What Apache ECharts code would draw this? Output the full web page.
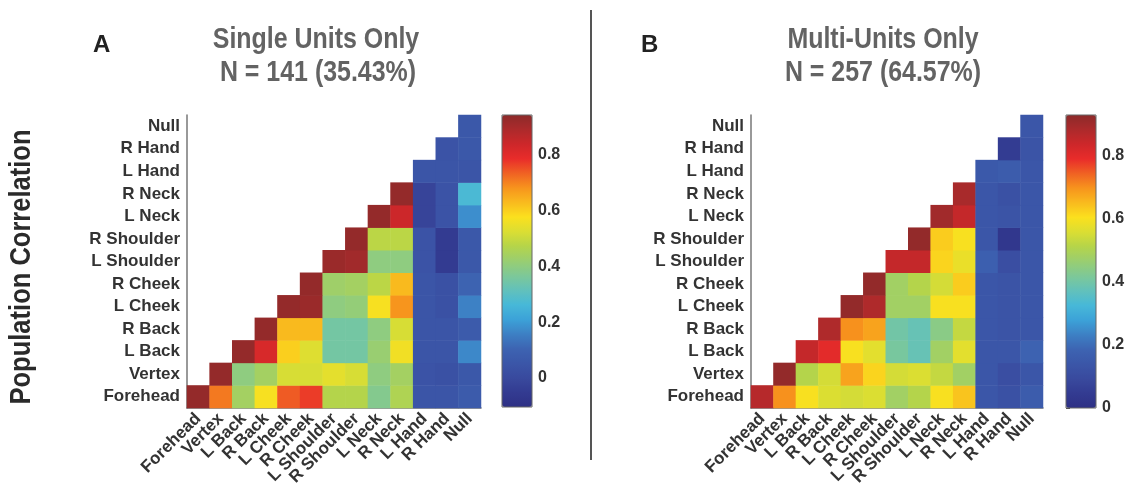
<!DOCTYPE html>
<html><head><meta charset="utf-8">
<script src="https://cdn.jsdelivr.net/npm/echarts@6/dist/echarts.min.js"></script>
<style>html,body{margin:0;padding:0;background:#fff}#c{width:1131px;height:501px}</style>
</head><body><div id="c"></div>
<script>
const categories = ['Forehead','Vertex','L Back','R Back','L Cheek','R Cheek','L Shoulder','R Shoulder','L Neck','R Neck','L Hand','R Hand','Null'];

// Row r holds values for columns r..12 (upper triangle incl. diagonal)
const singleRows = [
  [0.93,0.71,0.44,0.57,0.74,0.77,0.47,0.47,0.38,0.46,0.05,0.05,0.07],
  [0.93,0.40,0.44,0.52,0.52,0.54,0.52,0.40,0.44,0.04,0.03,0.06],
  [0.93,0.82,0.60,0.53,0.35,0.35,0.42,0.56,0.05,0.05,0.17],
  [0.93,0.63,0.63,0.35,0.35,0.40,0.52,0.05,0.05,0.07],
  [0.93,0.92,0.40,0.41,0.57,0.68,0.05,0.03,0.16],
  [0.93,0.43,0.44,0.48,0.63,0.05,0.03,0.10],
  [0.92,0.91,0.40,0.40,0.04,-0.05,0.06],
  [0.93,0.48,0.48,0.04,-0.05,0.06],
  [0.93,0.84,-0.02,0.04,0.18],
  [0.93,-0.02,0.04,0.27],
  [0.05,0.05,0.05],
  [0.04,0.06],
  [0.06]
];
const multiRows = [
  [0.87,0.70,0.60,0.56,0.55,0.56,0.48,0.51,0.60,0.64,0.14,0.12,0.16],
  [0.92,0.51,0.55,0.68,0.62,0.55,0.56,0.53,0.48,0.14,0.11,0.14],
  [0.85,0.80,0.60,0.57,0.41,0.38,0.48,0.57,0.14,0.14,0.18],
  [0.88,0.70,0.68,0.40,0.38,0.44,0.53,0.14,0.13,0.14],
  [0.92,0.88,0.48,0.48,0.60,0.60,0.14,0.13,0.14],
  [0.92,0.48,0.51,0.55,0.63,0.14,0.13,0.14],
  [0.85,0.85,0.62,0.58,0.17,0.11,0.14],
  [0.92,0.63,0.60,0.14,0.03,0.14],
  [0.90,0.85,0.14,0.13,0.14],
  [0.89,0.14,0.12,0.14],
  [0.15,0.16,0.14],
  [0.05,0.13],
  [0.14]
];
const singleRange = [-0.104, 0.943];
const multiRange = [0, 0.93];
const colorbarTicks = [0, 0.2, 0.4, 0.6, 0.8];

const cmap = ['#2e3085','#333b91','#394a9e','#3b56a8','#3d64b2','#3d80c4','#3ca2d8','#47b8d8','#62c1bb','#7dc898','#99ce71','#b5d44a','#dade33','#fbe01e','#f9bb1e','#f7941d','#f06223','#e92c2a','#cd272a','#ad2a2b','#8c2a2a'];

function build(rows){const d=[];rows.forEach((row,r)=>row.forEach((v,k)=>d.push([r+k,r,v])));return d;}

const FONT = 'Liberation Sans, Arial, sans-serif';
const labelStyle = {fontFamily:FONT,fontWeight:'bold',fontSize:17,color:'#333'};

function catX(gi){return {type:'category',gridIndex:gi,data:categories,
  axisLine:{show:true,lineStyle:{color:'#777',width:1.5}},axisTick:{show:false},
  axisLabel:Object.assign({interval:0,rotate:45,margin:8},labelStyle),splitLine:{show:false}};}
function catY(gi){return {type:'category',gridIndex:gi,data:categories,
  axisLine:{show:true,lineStyle:{color:'#777',width:1.5}},axisTick:{show:false},
  axisLabel:Object.assign({interval:0,margin:7},labelStyle),splitLine:{show:false}};}
function cbX(gi){return {type:'value',gridIndex:gi,show:false,min:0,max:1};}
function cbY(gi,range){return {type:'value',gridIndex:gi,position:'right',min:range[0],max:range[1],
  axisLine:{show:false},splitLine:{show:false},
  axisTick:{show:true,customValues:colorbarTicks,length:4,lineStyle:{color:'#444'}},
  axisLabel:Object.assign({customValues:colorbarTicks,margin:6,formatter:v=>v===0?'0':v.toFixed(1)},labelStyle,{fontSize:16})};}

function titleText(x,y,txt){return {type:'text',x:x,y:y,scaleX:0.86,
  style:{text:txt,fontFamily:FONT,fontWeight:'bold',fontSize:29,fill:'#636363',textAlign:'center',textVerticalAlign:'middle'}};}

const chart = echarts.init(document.getElementById('c'),null,{renderer:'canvas'});
chart.setOption({
  animation:false,
  backgroundColor:'#fff',
  title:[
    {text:'A',left:88,top:28,textStyle:{fontFamily:FONT,fontWeight:'bold',fontSize:24,color:'#222'}},
    {text:'B',left:636,top:28,textStyle:{fontFamily:FONT,fontWeight:'bold',fontSize:24,color:'#222'}}
  ],
  graphic:[
    titleText(316,40,'Single Units Only'),
    titleText(318,73,'N = 141 (35.43%)'),
    titleText(883,40,'Multi-Units Only'),
    titleText(883,73,'N = 257 (64.57%)'),
    {type:'text',x:22,y:267,rotation:Math.PI/2,scaleX:0.88,style:{text:'Population Correlation',fontFamily:FONT,fontWeight:'bold',fontSize:29,fill:'#2a2a2a',textAlign:'center',textVerticalAlign:'middle'}},
    {type:'line',shape:{x1:591,y1:10,x2:591,y2:460},style:{stroke:'#555',lineWidth:2}}
  ],
  grid:[
    {left:187,top:115,width:294,height:293},
    {left:751,top:115,width:292,height:293},
    {left:502,top:115,width:30,height:292,show:true,borderColor:'#666',borderWidth:1,backgroundColor:'transparent',z:5},
    {left:1066,top:115,width:30,height:293,show:true,borderColor:'#666',borderWidth:1,backgroundColor:'transparent',z:5}
  ],
  xAxis:[catX(0),catX(1),cbX(2),cbX(3)],
  yAxis:[catY(0),catY(1),cbY(2,singleRange),cbY(3,multiRange)],
  visualMap:[
    {type:'continuous',seriesIndex:0,min:singleRange[0],max:singleRange[1],calculable:false,hoverLink:false,
      orient:'vertical',left:502,top:115,itemWidth:30,itemHeight:292,padding:0,text:null,showLabel:false,inRange:{color:cmap}},
    {type:'continuous',seriesIndex:1,min:multiRange[0],max:multiRange[1],calculable:false,hoverLink:false,
      orient:'vertical',left:1066,top:115,itemWidth:30,itemHeight:293,padding:0,text:null,showLabel:false,inRange:{color:cmap}}
  ],
  series:[
    {type:'heatmap',xAxisIndex:0,yAxisIndex:0,data:build(singleRows),emphasis:{disabled:true},itemStyle:{borderWidth:0}},
    {type:'heatmap',xAxisIndex:1,yAxisIndex:1,data:build(multiRows),emphasis:{disabled:true},itemStyle:{borderWidth:0}}
  ]
});
</script></body></html>
